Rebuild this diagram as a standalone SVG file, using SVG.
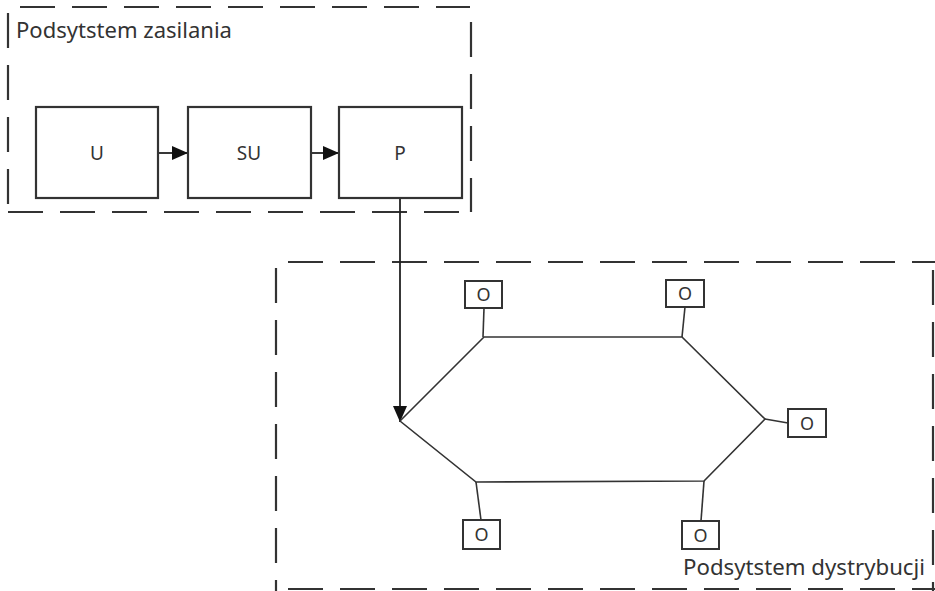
<svg xmlns="http://www.w3.org/2000/svg" width="935" height="591" viewBox="0 0 935 591">
  <style>
    .frame { stroke: #333; stroke-width: 2.2; fill: none; stroke-dasharray: 35 17; }
    .box { fill: #fff; stroke: #333; stroke-width: 2.2; }
    .obox { fill: #fff; stroke: #333; stroke-width: 2; }
    .wire { stroke: #333; stroke-width: 1.6; fill: none; }
    .link { stroke: #222; stroke-width: 1.8; fill: none; }
    .lbl { font-family: "Noto Sans", "Open Sans", "Liberation Sans", sans-serif; fill: #333; }
    .big { font-size: 21px; }
    .mid { font-size: 19px; text-anchor: middle; }
    .o { font-size: 18px; text-anchor: middle; }
  </style>
  <defs>
    <marker id="tri" viewBox="0 0 16 14" refX="16" refY="7" markerWidth="16" markerHeight="14" markerUnits="userSpaceOnUse" orient="auto">
      <path d="M0,0 L16,7 L0,14 Z" fill="#111"/>
    </marker>
  </defs>
  <rect width="935" height="591" fill="#fff"/>

  <!-- supply subsystem frame -->
  <g id="supply-frame">
    <line class="frame" x1="20" y1="7" x2="470" y2="7"/>
    <line class="frame" x1="8" y1="13" x2="8" y2="212"/>
    <line class="frame" x1="471" y1="22" x2="471" y2="212"/>
    <line class="frame" x1="8" y1="212" x2="470" y2="212"/>
    <text class="lbl big" x="16" y="38" textLength="216" lengthAdjust="spacingAndGlyphs">Podsytstem zasilania</text>
  </g>

  <!-- distribution subsystem frame -->
  <g id="distribution-frame">
    <line class="frame" x1="288" y1="262" x2="935" y2="262"/>
    <line class="frame" x1="276" y1="268" x2="276" y2="591"/>
    <line class="frame" x1="933" y1="270" x2="933" y2="591"/>
    <line class="frame" x1="288" y1="589" x2="935" y2="589"/>
    <text class="lbl big" x="683" y="575" textLength="242" lengthAdjust="spacingAndGlyphs">Podsytstem dystrybucji</text>
  </g>

  <g id="connectors">
    <line class="link" x1="158" y1="153" x2="188" y2="153" marker-end="url(#tri)"/>
    <line class="link" x1="311" y1="153" x2="339" y2="153" marker-end="url(#tri)"/>
    <line class="link" x1="400" y1="198" x2="400" y2="422" marker-end="url(#tri)"/>
    <!-- distribution ring -->
    <polygon class="wire" points="400,421 484,337 682,337 765,419 704,481 476,482"/>
    <!-- taps to outlets -->
    <line class="wire" x1="484" y1="308" x2="483" y2="337"/>
    <line class="wire" x1="685" y1="307" x2="682" y2="337"/>
    <line class="wire" x1="765" y1="419" x2="788" y2="423"/>
    <line class="wire" x1="704" y1="481" x2="701" y2="521"/>
    <line class="wire" x1="476" y1="482" x2="481" y2="520"/>
  </g>

  <g id="node-U">
    <rect class="box" x="36" y="107" width="122" height="91"/>
    <text class="lbl mid" x="97" y="160">U</text>
  </g>
  <g id="node-SU">
    <rect class="box" x="188" y="107" width="123" height="91"/>
    <text class="lbl mid" x="249" y="160">SU</text>
  </g>
  <g id="node-P">
    <rect class="box" x="339" y="107" width="123" height="91"/>
    <text class="lbl mid" x="400" y="160">P</text>
  </g>

  <g id="outlet-1">
    <rect class="obox" x="465" y="281" width="37" height="27"/>
    <text class="lbl o" x="483.5" y="301">O</text>
  </g>
  <g id="outlet-2">
    <rect class="obox" x="666" y="280" width="38" height="27"/>
    <text class="lbl o" x="685" y="300">O</text>
  </g>
  <g id="outlet-3">
    <rect class="obox" x="788" y="409" width="38" height="28"/>
    <text class="lbl o" x="807" y="429.5">O</text>
  </g>
  <g id="outlet-4">
    <rect class="obox" x="682" y="521" width="37" height="28"/>
    <text class="lbl o" x="700.5" y="541.5">O</text>
  </g>
  <g id="outlet-5">
    <rect class="obox" x="463" y="520" width="37" height="29"/>
    <text class="lbl o" x="481.5" y="541">O</text>
  </g>
</svg>
